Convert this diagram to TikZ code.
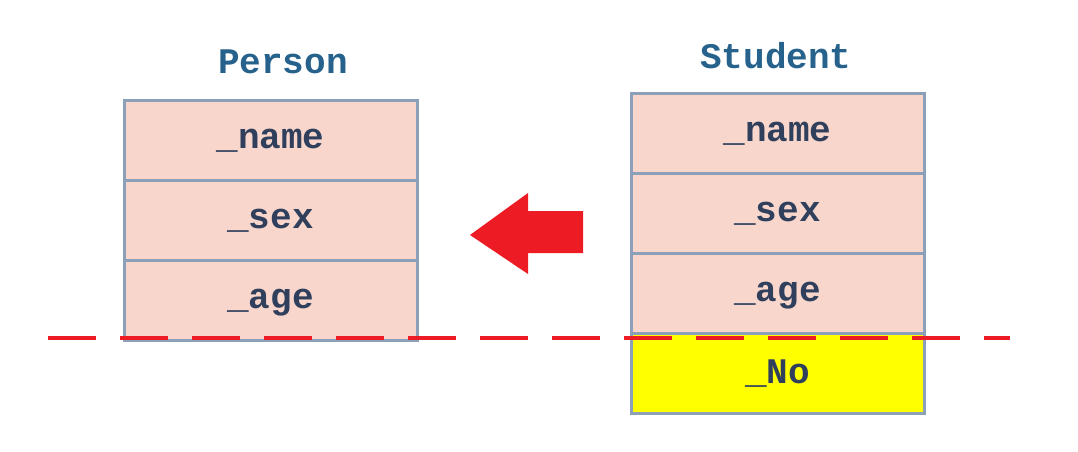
\documentclass[tikz,border=0pt]{standalone}
\usepackage{fontspec}
\setmonofont{Liberation Mono}
\usepackage{tikz}
\definecolor{feldrot}{RGB}{248,214,204}
\definecolor{feldrand}{RGB}{140,160,186}
\definecolor{feldgelb}{RGB}{255,255,0}
\definecolor{textblau}{RGB}{48,64,92}
\definecolor{titelblau}{RGB}{38,98,140}
\definecolor{pfeilrot}{RGB}{237,28,36}
\usetikzlibrary{positioning}

\begin{document}
\begin{tikzpicture}[x=0.5pt, y=-0.5pt,
		feld/.style={draw=feldrand, fill=feldrot, line width=1.5pt, minimum width=146.5pt, minimum height=40pt,
			inner sep=0pt, font=\ttfamily\fontsize{18}{20}\selectfont\bfseries, text=textblau, text depth=1pt},
		titel/.style={font=\ttfamily\fontsize{18}{20}\selectfont\bfseries, text=titelblau}]
		% Bildbereich
		\useasboundingbox (0,0) rectangle (1078,451);
		% Klasse Person
		\node[titel] (ptitel) at (283,62) {Person};
		\node[feld] (pname) at (270.5,140) {\_name};
		\node[feld] (psex) at (270.5,220) {\_sex};
		\node[feld] (page) at (270.5,300) {\_age};
		% Klasse Student
		\node[titel] (stitel) at (776,56) {Student};
		\node[feld] (sname) at (777.5,133) {\_name};
		\node[feld] (ssex) at (777.5,213) {\_sex};
		\node[feld] (sage) at (777.5,293) {\_age};
		\node[feld, fill=feldgelb] (sno) at (777.5,373) {\_No};
		% Pfeil
		\fill[pfeilrot] (470,235) -- (528,193) -- (528,211) -- (583,211) -- (583,253) -- (528,253) -- (528,274) -- cycle;
		% Trennlinie
		\draw[pfeilrot, line width=2pt, dash pattern=on 24pt off 12pt] (48,338) -- (1010,338);
	\end{tikzpicture}
\end{document}
